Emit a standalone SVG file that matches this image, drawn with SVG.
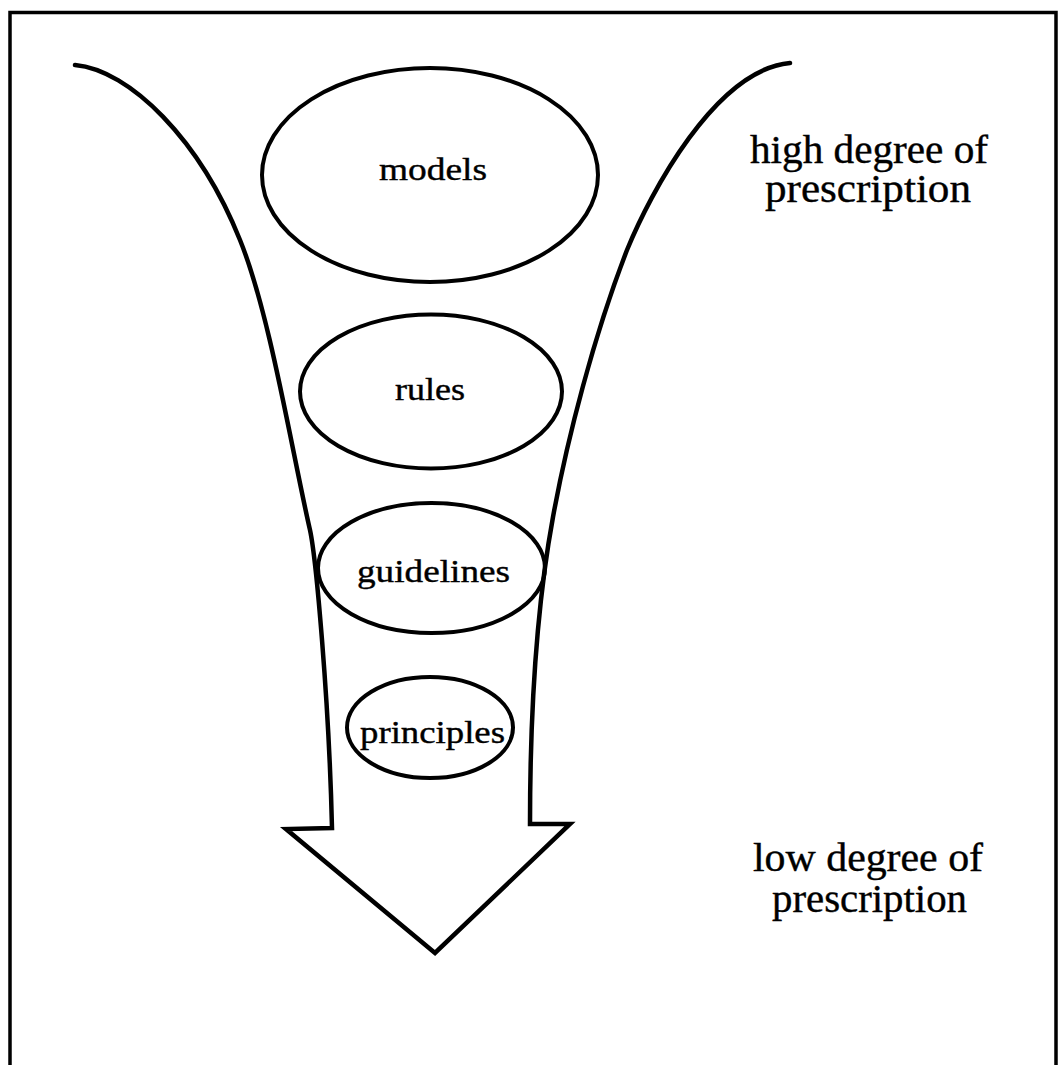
<svg xmlns="http://www.w3.org/2000/svg" width="1059" height="1065" viewBox="0 0 1059 1065">
<style>
.frame{fill:none;stroke:#000;stroke-width:3.5}
.funnel{fill:none;stroke:#000;stroke-width:4.5;stroke-linejoin:miter;stroke-linecap:round}
.node{fill:none;stroke:#000;stroke-width:4}
.lbl{font-family:"Liberation Serif","Times New Roman",serif;font-size:32px;fill:#000;stroke:#000;stroke-width:0.4}
.side{font-family:"Liberation Serif","Times New Roman",serif;fill:#000;stroke:#000;stroke-width:0.4}
</style>
<rect width="1059" height="1065" fill="#fff"/>
<path class="frame" d="M10,1065 V12.5 H1056 V1065"/>
<g id="connectors">
<path id="funnel-arrow" class="funnel" d="M75,65 C130,70 200,140 240,240 C270,314 292,452 310,530 C316,558 329,700 332,828 L286,829 L435,953 L570,824 L530,824 C530,720 535,615 553,517 C567,440 594,335 627,250 C650,194 715,70 790,63"/>
</g>
<g id="models">
<ellipse class="node" cx="430" cy="175" rx="168" ry="107"/>
<text class="lbl" x="379" y="180" textLength="108" lengthAdjust="spacingAndGlyphs">models</text>
</g>
<g id="rules">
<ellipse class="node" cx="431" cy="391.5" rx="131" ry="77"/>
<text class="lbl" x="395" y="400" textLength="70" lengthAdjust="spacingAndGlyphs">rules</text>
</g>
<g id="guidelines">
<ellipse class="node" cx="431.5" cy="568" rx="113.5" ry="65"/>
<text class="lbl" x="357" y="582" textLength="153" lengthAdjust="spacingAndGlyphs">guidelines</text>
</g>
<g id="principles">
<ellipse class="node" cx="430" cy="727.5" rx="83" ry="50.5"/>
<text class="lbl" x="360" y="743" textLength="145" lengthAdjust="spacingAndGlyphs">principles</text>
</g>
<g id="high-label">
<text class="side" font-size="39" x="750" y="162.5" textLength="238" lengthAdjust="spacingAndGlyphs">high degree of</text>
<text class="side" font-size="39" x="765" y="202" textLength="206" lengthAdjust="spacingAndGlyphs">prescription</text>
</g>
<g id="low-label">
<text class="side" font-size="40" x="753" y="871" textLength="230" lengthAdjust="spacingAndGlyphs">low degree of</text>
<text class="side" font-size="40" x="772" y="912" textLength="195" lengthAdjust="spacingAndGlyphs">prescription</text>
</g>
</svg>
